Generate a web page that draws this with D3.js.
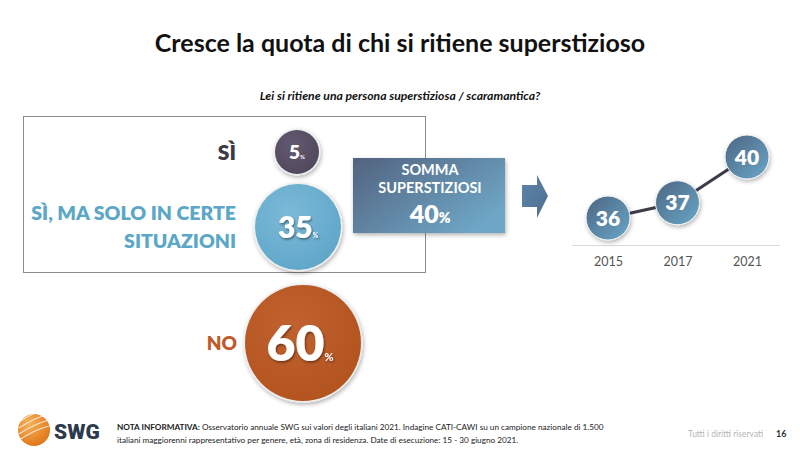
<!DOCTYPE html>
<html><head><meta charset="utf-8">
<script src="https://cdn.jsdelivr.net/npm/d3@7"></script>
<style>
html,body{margin:0;padding:0;background:#fff;}
svg{display:block;font-family:Lato,"Open Sans",sans-serif;}
</style></head>
<body>
<svg id="chart" width="800" height="453"></svg>
<script>
// ---- data ----
const answerLabels = [["SÌ"], ["SÌ, MA SOLO IN CERTE", "SITUAZIONI"], ["NO"]];
const answerValues = [5, 35, 60];
const sumLabel = ["SOMMA", "SUPERSTIZIOSI"];
const sumValue = 40;
const trendYears = ["2015", "2017", "2021"];
const trendValues = [36, 37, 40];
const titleText = "Cresce la quota di chi si ritiene superstizioso";
const questionText = "Lei si ritiene una persona superstiziosa / scaramantica?";
const noteBold = "NOTA INFORMATIVA:";
const noteLines = [" Osservatorio annuale SWG sui valori degli italiani 2021. Indagine CATI-CAWI su un campione nazionale di 1.500",
  "italiani maggiorenni rappresentativo per genere, età, zona di residenza. Date di esecuzione: 15 - 30 giugno 2021."];
const rightsText = "Tutti i diritti riservati";
const pageNumber = "16";

const svg = d3.select("#chart");
const defs = svg.append("defs");

function radial(id, c1, c2, cx, cy) {
  const g = defs.append("radialGradient").attr("id", id).attr("cx", cx || "40%").attr("cy", cy || "35%").attr("r", "70%");
  g.append("stop").attr("offset", "0%").attr("stop-color", c1);
  g.append("stop").attr("offset", "100%").attr("stop-color", c2);
}
function linear(id, c1, c2, x1, y1, x2, y2) {
  const g = defs.append("linearGradient").attr("id", id).attr("x1", x1).attr("y1", y1).attr("x2", x2).attr("y2", y2);
  g.append("stop").attr("offset", "0%").attr("stop-color", c1);
  g.append("stop").attr("offset", "100%").attr("stop-color", c2);
}
radial("gSi", "#625870", "#52485d");
radial("gMa", "#7cbad8", "#5fa6c9");
radial("gNo", "#c0612f", "#b3541f");
linear("gSum", "#52627f", "#6ea7c6", "0%", "0%", "100%", "70%");
linear("gArrow", "#5d86ab", "#4f6d8f", "0%", "0%", "100%", "100%");
linear("gDot", "#4c6582", "#6aa7c8", "0%", "0%", "100%", "100%");
radial("gLogo", "#f7b15a", "#e07a1c", "35%", "30%");

const sh = defs.append("filter").attr("id", "shadow").attr("x", "-30%").attr("y", "-30%").attr("width", "160%").attr("height", "160%");
sh.append("feDropShadow").attr("dx", 1).attr("dy", 2).attr("stdDeviation", 2).attr("flood-color", "#000").attr("flood-opacity", 0.3);
const tsh = defs.append("filter").attr("id", "tshadow").attr("x", "-20%").attr("y", "-20%").attr("width", "140%").attr("height", "140%");
tsh.append("feDropShadow").attr("dx", 1).attr("dy", 1.5).attr("stdDeviation", 1).attr("flood-color", "#000").attr("flood-opacity", 0.45);

// ---- title ----
svg.append("text").attr("x", 400).attr("y", 52).attr("text-anchor", "middle")
  .attr("font-size", 25).attr("font-weight", 700).attr("fill", "#111").text(titleText);
svg.append("text").attr("x", 400).attr("y", 100).attr("text-anchor", "middle")
  .attr("font-size", 12.2).attr("font-weight", 700).attr("font-style", "italic").attr("fill", "#111").text(questionText);

// ---- bubble block ----
svg.append("rect").attr("x", 23.5).attr("y", 116.5).attr("width", 402).attr("height", 156)
  .attr("fill", "none").attr("stroke", "#8c8c8c").attr("stroke-width", 1);

const rScale = d3.scaleLinear().domain([5, 35, 60]).range([22, 43, 58]);
const bubbleCx = [297, 298, 303];
const bubbleCy = [152, 227, 343];
const bubbleFill = ["url(#gSi)", "url(#gMa)", "url(#gNo)"];
const labelColor = ["#3b3b45", "#5ca7c8", "#c05a28"];
const labelSize = [21, 19.5, 19];
const numSize = [19, 30, 50];
const labelX = [236, 236, 237];

answerValues.forEach((v, i) => {
  const r = rScale(v);
  svg.append("circle").attr("cx", bubbleCx[i]).attr("cy", bubbleCy[i]).attr("r", r + 1.5)
    .attr("fill", "#eeeeee").attr("filter", "url(#shadow)");
  svg.append("circle").attr("cx", bubbleCx[i]).attr("cy", bubbleCy[i]).attr("r", r)
    .attr("fill", bubbleFill[i]);
  const t = svg.append("text").attr("x", bubbleCx[i] + (i === 2 ? -3 : 0)).attr("y", bubbleCy[i] + numSize[i] * 0.36)
    .attr("text-anchor", "middle").attr("fill", "#fff").attr("font-weight", 800)
    .attr("filter", i > 0 ? "url(#tshadow)" : null);
  t.append("tspan").attr("font-size", numSize[i]).text(v);
  t.append("tspan").attr("font-size", Math.max(6, numSize[i] * 0.22)).attr("font-weight", 700).text("%");
  const lines = answerLabels[i];
  const lh = labelSize[i] * 1.45;
  lines.forEach((ln, j) => {
    svg.append("text").attr("x", labelX[i])
      .attr("y", bubbleCy[i] + labelSize[i] * 0.36 + (j - (lines.length - 1) / 2) * lh)
      .attr("text-anchor", "end").attr("font-size", labelSize[i]).attr("font-weight", 800)
      .attr("fill", labelColor[i]).text(ln);
  });
});

// ---- sum box ----
svg.append("rect").attr("x", 353).attr("y", 158).attr("width", 152).attr("height", 75)
  .attr("fill", "url(#gSum)").attr("filter", "url(#shadow)");
sumLabel.forEach((s, j) => {
  svg.append("text").attr("x", 430).attr("y", 175 + j * 18).attr("text-anchor", "middle")
    .attr("font-size", 14.5).attr("font-weight", 700).attr("fill", "#fff").text(s);
});
const st = svg.append("text").attr("x", 430).attr("y", 223).attr("text-anchor", "middle")
  .attr("fill", "#fff").attr("font-weight", 800);
st.append("tspan").attr("font-size", 25).text(sumValue);
st.append("tspan").attr("font-size", 14).text("%");

// ---- arrow ----
svg.append("path").attr("d", "M522,185 L537,185 L537,175 L548,196 L537,218 L537,207 L522,207 Z")
  .attr("fill", "url(#gArrow)");

// ---- trend chart ----
const x = d3.scalePoint().domain(trendYears).range([608, 747]);
const y = d3.scaleLinear().domain([36, 40]).range([218, 157]);
svg.append("line").attr("x1", 572).attr("x2", 780).attr("y1", 245.5).attr("y2", 245.5)
  .attr("stroke", "#d9d9d9").attr("stroke-width", 1);
const xAxis = svg.append("g").attr("transform", "translate(0,245)")
  .call(d3.axisBottom(x).tickSize(0).tickPadding(12));
xAxis.select(".domain").remove();
xAxis.selectAll("text").attr("font-size", 12.5).attr("fill", "#555").attr("font-family", "Lato, 'Open Sans', sans-serif");

svg.append("path").datum(trendValues.map((v, i) => [x(trendYears[i]), y(v)]))
  .attr("d", d3.line()).attr("fill", "none").attr("stroke", "#3e3b4a").attr("stroke-width", 3);
trendValues.forEach((v, i) => {
  svg.append("circle").attr("cx", x(trendYears[i])).attr("cy", y(v)).attr("r", 22)
    .attr("fill", "url(#gDot)").attr("stroke", "#f4f4f4").attr("stroke-width", 1).attr("filter", "url(#shadow)");
  svg.append("text").attr("x", x(trendYears[i])).attr("y", y(v) + 7.5).attr("text-anchor", "middle")
    .attr("font-size", 21).attr("font-weight", 800).attr("fill", "#fff").text(v);
});

// ---- footer ----
const logo = svg.append("g").attr("transform", "translate(34,430)");
logo.append("circle").attr("r", 16).attr("fill", "url(#gLogo)");
[-8, -2, 4, 10].forEach(o => {
  logo.append("path").attr("d", `M-15,${o} Q0,${o - 10} 15,${o - 14}`)
    .attr("fill", "none").attr("stroke", "#fff").attr("stroke-opacity", 0.75).attr("stroke-width", 1.2);
});
svg.append("text").attr("x", 54).attr("y", 439).attr("font-size", 21).attr("font-weight", 900)
  .attr("fill", "#2d3a4e").attr("font-family", "Roboto, Lato, sans-serif").text("SWG");

const n1 = svg.append("text").attr("x", 117).attr("y", 430).attr("font-size", 8.2).attr("fill", "#222");
n1.append("tspan").attr("font-weight", 700).text(noteBold);
n1.append("tspan").text(noteLines[0]);
svg.append("text").attr("x", 117).attr("y", 443).attr("font-size", 8.2).attr("fill", "#222").text(noteLines[1]);
svg.append("text").attr("x", 688).attr("y", 437).attr("font-size", 8.5).attr("fill", "#b5b5b5").text(rightsText);
svg.append("text").attr("x", 776).attr("y", 437).attr("font-size", 9).attr("font-weight", 700).attr("fill", "#333").text(pageNumber);
</script>
</body></html>
